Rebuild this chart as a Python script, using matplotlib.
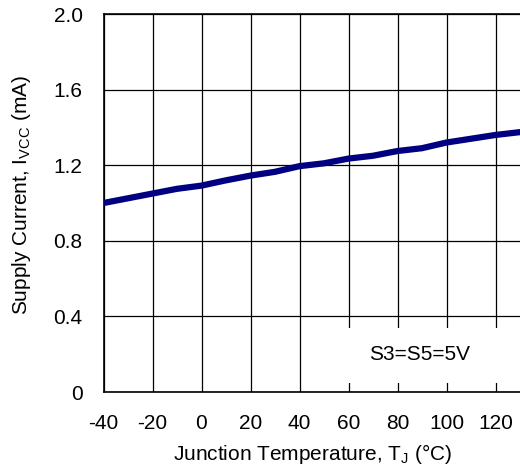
import numpy as np
import matplotlib.pyplot as plt
from matplotlib.patches import Rectangle

plt.rcParams['font.family'] = ['Liberation Sans', 'DejaVu Sans']
plt.rcParams['mathtext.fontset'] = 'custom'
plt.rcParams['mathtext.rm'] = 'Liberation Sans'
plt.rcParams['axes.unicode_minus'] = False

# donnees
temp = [-40, -30, -20, -10, 0, 10, 20, 30, 40, 50, 60, 70, 80, 90, 100, 110, 120, 130]
icc = [1.0, 1.025, 1.05, 1.075, 1.092, 1.12, 1.145, 1.165, 1.195, 1.21, 1.235, 1.25,
       1.275, 1.29, 1.32, 1.34, 1.36, 1.375]
xticks = [-40, -20, 0, 20, 40, 60, 80, 100, 120]
yticks = [0, 0.4, 0.8, 1.2, 1.6, 2.0]
ylabels = ['0', '0.4', '0.8', '1.2', '1.6', '2.0']

fig = plt.figure(figsize=(5.2, 4.69), dpi=100)
ax = fig.add_axes([103.5/520, 77/469, 441/520, 378/469])

ax.plot(temp, icc, color='#000080', lw=4.5, solid_capstyle='round', zorder=5)

ax.set_xlim(-40, 140)
ax.set_ylim(0, 2.0)
ax.set_xticks(xticks)
ax.set_yticks(yticks)
ax.set_yticklabels(ylabels)
ax.grid(True, color='black', lw=0.9)
ax.tick_params(length=0, labelsize=15, pad=16)
ax.tick_params(axis='y', pad=15)
for s in ax.spines.values():
    s.set_linewidth(1.2)

# cadre blanc de l'annotation
ax.add_patch(Rectangle((52, 0.05), 120, 0.29, facecolor='white', edgecolor='none', zorder=3))
ax.text(89, 0.197, 'S3=S5=5V', fontsize=15, ha='center', va='center', zorder=4)

ax.set_xlabel(r'Junction Temperature, T$_{\rm J}$ (°C)', fontsize=15)
ax.xaxis.set_label_coords((313 - 103.5)/441, -(442 - 392)/378)
ax.set_ylabel(r'Supply Current, I$_{\rm VCC}$ (mA)', fontsize=15)
ax.yaxis.set_label_coords(-(103.5 - 33)/441, 0.52)

fig.savefig('out.png', dpi=100)
